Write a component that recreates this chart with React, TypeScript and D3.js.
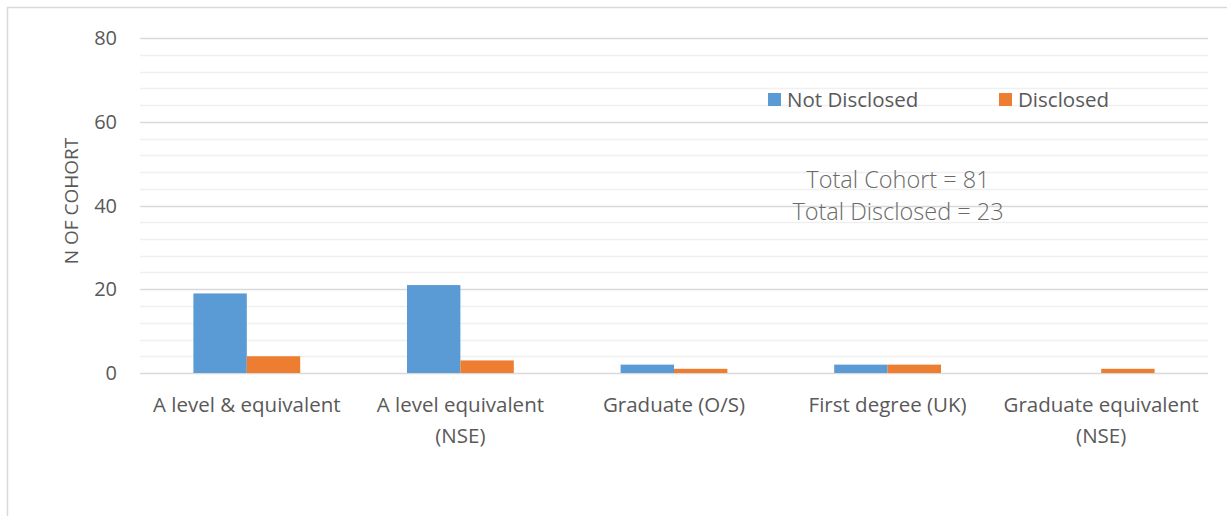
import { useEffect, useRef } from 'react';
import * as d3 from 'd3';

// Qualification level vs disclosure counts
const CATEGORIES = [
  'A level & equivalent',
  'A level equivalent (NSE)',
  'Graduate (O/S)',
  'First degree (UK)',
  'Graduate equivalent (NSE)',
];
// wrapped tick labels as they appear under the axis
const CATEGORY_LINES = [
  ['A level & equivalent'],
  ['A level equivalent', '(NSE)'],
  ['Graduate (O/S)'],
  ['First degree (UK)'],
  ['Graduate equivalent', '(NSE)'],
];
const NOT_DISCLOSED = [19, 21, 2, 2, 0];
const DISCLOSED = [4, 3, 1, 2, 1];
const SERIES = ['Not Disclosed', 'Disclosed'];
const Y_TICKS = [0, 20, 40, 60, 80];
const NOTES = ['Total Cohort = 81', 'Total Disclosed = 23'];

const COLORS = ['#5B9BD5', '#ED7D31'];
const FONT = '"Open Sans", "Liberation Sans", sans-serif';

const W = 1227;
const H = 516;

export default function App() {
  const svgRef = useRef<SVGSVGElement>(null);

  useEffect(() => {
    document.body.style.margin = '0';
    const svg = d3.select(svgRef.current);
    svg.selectAll('*').remove();

    const left = 140, right = 1208, top = 38, bottom = 373;

    const x = d3.scaleBand<string>().domain(CATEGORIES).range([left, right]).paddingInner(0).paddingOuter(0);
    const y = d3.scaleLinear().domain([0, 80]).range([bottom, top]);

    // chart frame
    svg.append('rect')
      .attr('x', 7.5).attr('y', 7.5)
      .attr('width', W + 20).attr('height', H + 20)
      .attr('fill', '#fff').attr('stroke', '#D9D9D9').attr('stroke-width', 1.5);

    // minor gridlines every 4
    for (const v of d3.range(4, 80, 4)) {
      if (v % 20 === 0) continue;
      svg.append('line')
        .attr('x1', left).attr('x2', right)
        .attr('y1', Math.round(y(v)) + 0.5).attr('y2', Math.round(y(v)) + 0.5)
        .attr('stroke', '#F0F0F0').attr('stroke-width', 1.5);
    }
    // major gridlines
    for (const v of Y_TICKS) {
      svg.append('line')
        .attr('x1', left).attr('x2', right)
        .attr('y1', Math.round(y(v)) + 0.5).attr('y2', Math.round(y(v)) + 0.5)
        .attr('stroke', '#D9D9D9').attr('stroke-width', 1.5);
    }

    // y tick labels
    svg.append('g').selectAll('text').data(Y_TICKS).join('text')
      .attr('x', 117).attr('y', (d) => y(d)).attr('dy', '0.35em')
      .attr('text-anchor', 'end')
      .attr('font-family', FONT).attr('font-size', 20).attr('fill', '#595959')
      .text((d) => d);

    // y axis title
    svg.append('text')
      .attr('transform', `translate(78, 201) rotate(-90)`)
      .attr('text-anchor', 'middle')
      .attr('font-family', FONT).attr('font-size', 19).attr('fill', '#595959')
      .text('N OF COHORT');

    // bars
    const bw = x.bandwidth() / 4;
    const series = [NOT_DISCLOSED, DISCLOSED];
    series.forEach((vals, si) => {
      svg.append('g').selectAll('rect').data(vals).join('rect')
        .attr('x', (_, i) => (x(CATEGORIES[i]) ?? 0) + bw + si * bw)
        .attr('y', (d) => y(d))
        .attr('width', bw)
        .attr('height', (d) => bottom - y(d))
        .attr('fill', COLORS[si]);
    });

    // category labels
    CATEGORY_LINES.forEach((lines, i) => {
      const cx = (x(CATEGORIES[i]) ?? 0) + x.bandwidth() / 2;
      const t = svg.append('text')
        .attr('text-anchor', 'middle')
        .attr('font-family', FONT).attr('font-size', 20.5).attr('fill', '#595959');
      lines.forEach((ln, j) => {
        t.append('tspan').attr('x', cx).attr('y', 412 + j * 31).text(ln);
      });
    });

    // legend
    const legendX = [768, 999];
    SERIES.forEach((name, i) => {
      svg.append('rect')
        .attr('x', legendX[i]).attr('y', 93).attr('width', 13).attr('height', 13)
        .attr('fill', COLORS[i]);
      svg.append('text')
        .attr('x', legendX[i] + 19).attr('y', 107)
        .attr('font-family', FONT).attr('font-size', 20.5).attr('fill', '#595959')
        .text(name);
    });

    // annotation
    NOTES.forEach((n, i) => {
      svg.append('text')
        .attr('x', 898).attr('y', 188 + i * 32)
        .attr('text-anchor', 'middle')
        .attr('font-family', FONT).attr('font-weight', 300).attr('font-size', 23.5).attr('fill', '#6A6A6A')
        .text(n);
    });
  }, []);

  return <svg ref={svgRef} width={W} height={H} style={{ display: 'block' }} />;
}
